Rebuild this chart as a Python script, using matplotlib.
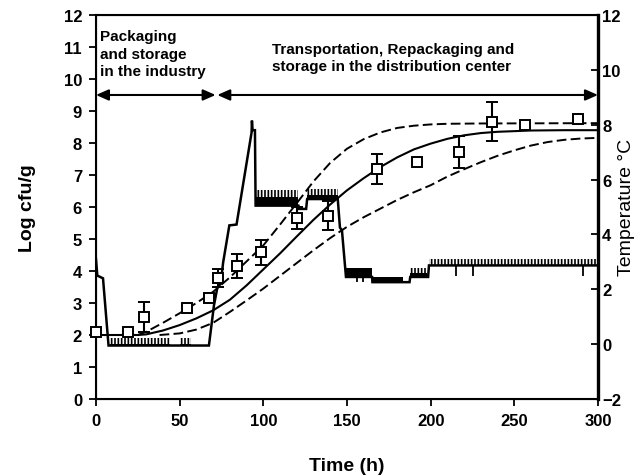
import matplotlib
matplotlib.use("Agg")
import matplotlib.pyplot as plt
import numpy as np

plt.rcParams['font.family'] = ['Liberation Sans', 'DejaVu Sans']
plt.rcParams['hatch.linewidth'] = 1.2

# observed counts (log cfu/g) with standard deviations
obs_t = [0, 19.3, 28.7, 54.2, 67.7, 72.7, 84.1, 98.8, 119.9, 138.5, 168.1, 191.6, 217.1, 236.8, 256.6, 287.9]
obs_log = [2.10, 2.08, 2.55, 2.83, 3.15, 3.77, 4.15, 4.58, 5.65, 5.73, 7.19, 7.42, 7.73, 8.67, 8.56, 8.76]
obs_sd = [0.05, 0.05, 0.47, 0.12, 0.12, 0.28, 0.37, 0.40, 0.34, 0.45, 0.46, 0.0, 0.50, 0.60, 0.05, 0.05]

# predicted growth and confidence limits
pred_t = [0, 25, 30, 40, 50, 60, 70, 80, 90, 100, 110, 120, 130, 140, 150, 160, 170,
          180, 190, 200, 210, 220, 230, 240, 250, 260, 280, 300]
pred_log = [2.0, 2.0, 2.02, 2.14, 2.31, 2.52, 2.77, 3.1, 3.55, 4.05, 4.55, 5.08, 5.6,
            6.08, 6.52, 6.9, 7.25, 7.55, 7.8, 7.98, 8.13, 8.24, 8.31, 8.35, 8.37, 8.39, 8.4, 8.4]
upper_t = [25, 30, 40, 50, 60, 70, 80, 90, 100, 110, 120, 130, 140, 150, 160, 170, 180,
           190, 200, 210, 230, 300]
upper_log = [2.0, 2.1, 2.38, 2.68, 3.0, 3.35, 3.8, 4.3, 4.8, 5.45, 6.12, 6.8, 7.38, 7.82,
             8.12, 8.33, 8.47, 8.54, 8.58, 8.6, 8.61, 8.62]
lower_t = [38, 50, 60, 70, 80, 90, 100, 110, 120, 130, 140, 150, 160, 170, 180, 190, 200,
           210, 220, 230, 240, 250, 260, 270, 280, 290, 300]
lower_log = [2.0, 2.05, 2.17, 2.38, 2.72, 3.08, 3.45, 3.85, 4.25, 4.65, 5.03, 5.38, 5.68,
             5.95, 6.22, 6.46, 6.68, 6.95, 7.18, 7.4, 7.6, 7.77, 7.92, 8.03, 8.1, 8.14, 8.16]

# temperature record (degC), base trace
temp_t = [0, 0.8, 4.2, 7.5, 67.5, 70.5, 72.5, 74.5, 76.0, 79.7, 84.0, 93.0, 93.2, 93.6,
          95.0, 95.4, 121.0, 121.3, 125.6, 126.2, 144.5, 145.8, 147.0, 149.4, 165.0,
          165.2, 187.4, 187.8, 198.5, 199.0, 300]
temp_c = [3.1, 2.5, 2.4, -0.05, -0.05, 1.41, 2.05, 2.2, 2.98, 4.33, 4.36, 7.72, 8.15, 7.8,
          7.8, 5.05, 5.05, 4.93, 4.93, 5.29, 5.29, 4.25, 4.15, 2.45, 2.45, 2.26, 2.26,
          2.45, 2.45, 2.87, 2.87]

# fluctuating stretches of the logger: start, end, bottom, solid top, peak
band_start = [8.5, 50, 95.4, 126.2, 149.4, 165.0, 187.8, 199.0]
band_end = [44, 56.5, 121.0, 144.5, 165.0, 183.3, 197.6, 300]
band_low = [-0.05, -0.05, 5.05, 5.29, 2.45, 2.26, 2.45, 2.87]
band_mid = [0.02, 0.02, 5.38, 5.45, 2.76, 2.43, 2.6, 2.9]
band_high = [0.22, 0.22, 5.63, 5.66, 2.76, 2.43, 2.76, 3.1]

# short downward dips of the logger
dip_t = [155.8, 159.8, 165.7, 215.2, 225.1, 290.8]
dip_top = [2.45, 2.45, 2.45, 2.87, 2.87, 2.87]
dip_c = [2.26, 2.26, 2.26, 2.49, 2.49, 2.49]

fig = plt.figure(figsize=(6.42, 4.77), dpi=100)
ax = fig.add_axes([0.1495, 0.1614, 0.7819, 0.8051])
ax2 = ax.twinx()
ax.set_zorder(2)
ax.patch.set_visible(False)

# temperature on the right axis
ax2.plot(temp_t, temp_c, color='black', lw=1.8, solid_joinstyle='miter')
for t0, t1, lo, mid, hi in zip(band_start, band_end, band_low, band_mid, band_high):
    ax2.fill_between([t0, t1], lo, mid, color='black', lw=0)
    if hi > mid:
        ax2.fill_between([t0, t1], mid, hi, facecolor='none', edgecolor='black',
                         hatch='|||||', lw=0)
ax2.vlines(dip_t, dip_c, dip_top, color='black', lw=1.3)

# growth curves
ax.plot(pred_t, pred_log, color='black', lw=1.5)
ax.plot(upper_t, upper_log, color='black', lw=1.4, dashes=(5, 2.2))
ax.plot(lower_t, lower_log, color='black', lw=1.4, dashes=(5, 2.2))
ax.errorbar(obs_t, obs_log, yerr=obs_sd, fmt='s', ms=7.5, mfc='white', mec='black',
            mew=1.4, ecolor='black', elinewidth=1.5, capsize=4.5, capthick=1.5,
            clip_on=False, zorder=5)

# stage arrows
arrow = dict(arrowstyle='<|-|>,head_length=0.5,head_width=0.22', color='black',
             lw=1.5, mutation_scale=15, shrinkA=0, shrinkB=0)
ax.annotate('', xy=(0, 9.5), xytext=(71.5, 9.5), arrowprops=arrow)
ax.annotate('', xy=(72.5, 9.5), xytext=(300, 9.5), arrowprops=arrow)
ax.text(2.2, 11.55, 'Packaging\nand storage\nin the industry', fontsize=11,
        fontweight='bold', va='top', ha='left', linespacing=1.3)
ax.text(105, 11.15, 'Transportation, Repackaging and\nstorage in the distribution center',
        fontsize=11, fontweight='bold', va='top', ha='left', linespacing=1.3)

ax.set_xlim(0, 300)
ax.set_ylim(0, 12)
ax2.set_ylim(-2, 12)
ax.set_xticks(np.arange(0, 301, 50))
ax.set_yticks(np.arange(0, 13, 1))
ax2.set_yticks(np.arange(-2, 13, 2))

ax.tick_params(axis='both', direction='out', length=5, width=1.3, labelsize=12, pad=5)
ax2.tick_params(axis='y', direction='in', length=5, width=1.3, labelsize=12, pad=3)
for lab in ax.get_xticklabels() + ax.get_yticklabels() + ax2.get_yticklabels():
    lab.set_fontweight('bold')

for side in ['left', 'top', 'bottom']:
    ax.spines[side].set_linewidth(1.5)
ax2.spines['right'].set_linewidth(2.4)
ax.spines['right'].set_visible(False)

ax.set_xlabel('Time (h)', fontsize=14, fontweight='bold', labelpad=21)
ax.set_ylabel('Log cfu/g', fontsize=14, fontweight='bold', labelpad=20)
fig.text(0.976, 0.565, 'Temperature °C', fontsize=14, rotation=90,
         ha='center', va='center')

fig.savefig('out.png', dpi=100)
